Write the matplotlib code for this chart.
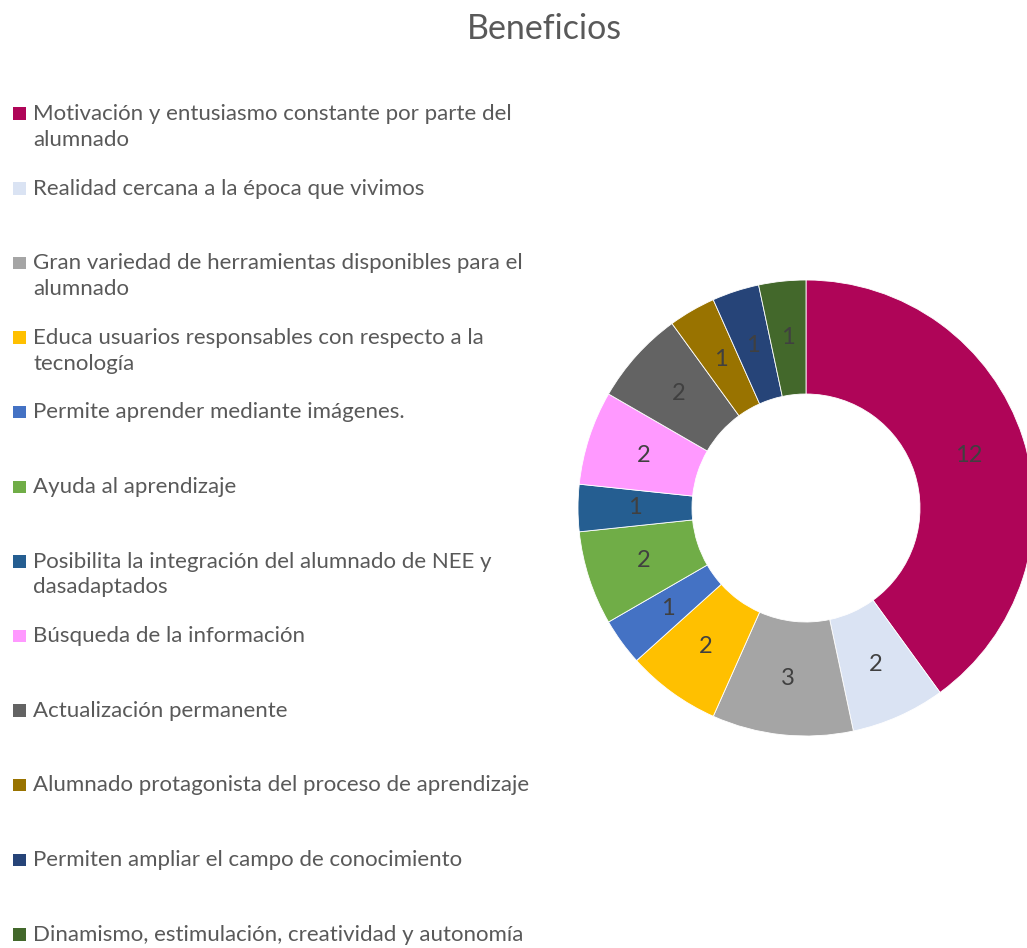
import matplotlib
matplotlib.use('Agg')
import matplotlib.pyplot as plt
from matplotlib.patches import Rectangle

# Data
labels = ['Motivación y entusiasmo constante por parte del\nalumnado',
          'Realidad cercana a la época que vivimos',
          'Gran variedad de herramientas disponibles para el\nalumnado',
          'Educa usuarios responsables con respecto a la\ntecnología',
          'Permite aprender mediante imágenes.',
          'Ayuda al aprendizaje',
          'Posibilita la integración del alumnado de NEE y\ndasadaptados',
          'Búsqueda de la información',
          'Actualización permanente',
          'Alumnado protagonista del proceso de aprendizaje',
          'Permiten ampliar el campo de conocimiento',
          'Dinamismo, estimulación, creatividad y autonomía']
values = [12, 2, 3, 2, 1, 2, 1, 2, 2, 1, 1, 1]
colors = ['#AF0558', '#DAE3F3', '#A5A5A5', '#FFC000', '#4472C4', '#70AD47',
          '#255E91', '#FF99FF', '#636363', '#997300', '#264478', '#43682B']

W, H = 1027, 948
fig = plt.figure(figsize=(W / 100, H / 100), dpi=100)
plt.rcParams['font.family'] = ['Lato', 'DejaVu Sans']

fig.text(544 / W, 1 - 29 / H, 'Beneficios', ha='center', va='center',
         fontsize=24.5, color='#595959')

# donut
cx, cy, r = 806, 508, 228
ax = fig.add_axes([(cx - r) / W, (H - cy - r) / H, 2 * r / W, 2 * r / H])
wedges, texts = ax.pie(values, colors=colors, startangle=90, counterclock=False,
                       radius=1, labels=[str(v) for v in values], labeldistance=0.75,
                       wedgeprops=dict(width=0.5, edgecolor='white', linewidth=0.6),
                       textprops=dict(fontsize=17, color='#404040', ha='center', va='center'))
ax.set_xlim(-1, 1)
ax.set_ylim(-1, 1)
ax.set_aspect('equal')
ax.axis('off')

# legend
y0 = 114
for i, (lab, col) in enumerate(zip(labels, colors)):
    y = y0 + 74.6 * i
    fig.patches.append(Rectangle((13 / W, 1 - (y + 6) / H), 12.5 / W, 12.5 / H,
                                 transform=fig.transFigure, facecolor=col,
                                 edgecolor='none'))
    fig.text(33 / W, 1 - (y - 10) / H, lab, ha='left', va='top', fontsize=16,
             color='#595959', linespacing=1.36)

fig.savefig('out.png', dpi=100)
